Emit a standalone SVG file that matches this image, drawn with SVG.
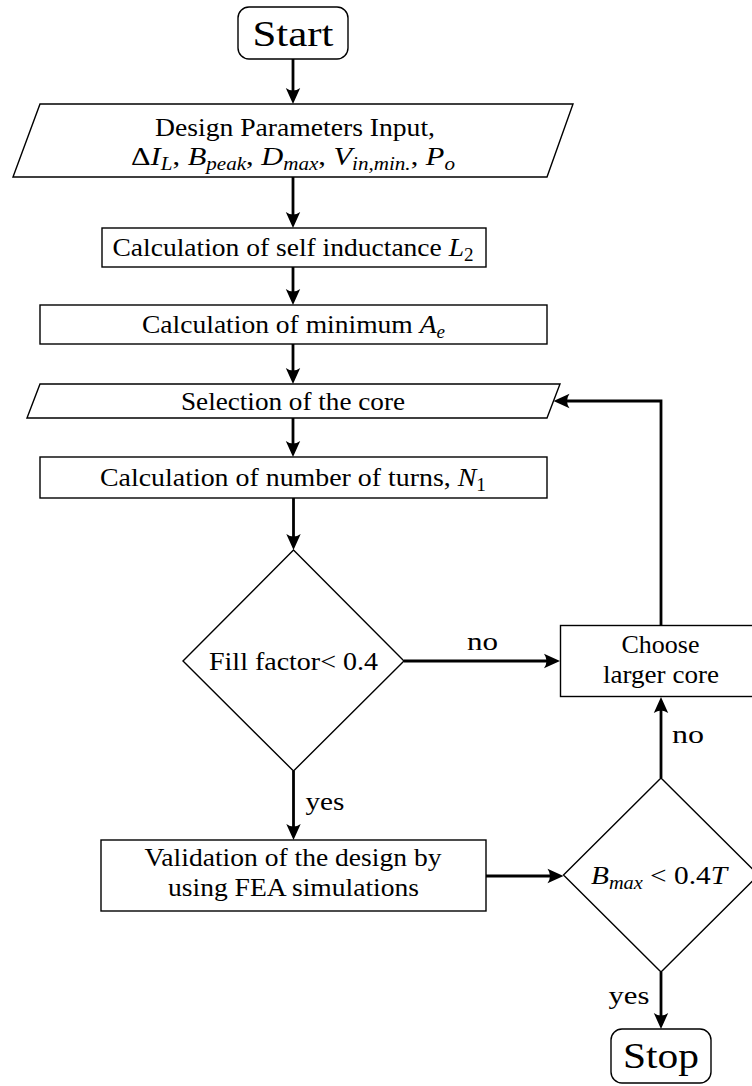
<svg xmlns="http://www.w3.org/2000/svg" width="752" height="1086" viewBox="0 0 752 1086">
  <defs>
    <marker id="arrow" markerUnits="userSpaceOnUse" viewBox="0 0 18 16" markerWidth="18" markerHeight="16" refX="7" refY="8" orient="auto">
      <path d="M17,8 L1,0.8 Q6,8 1,15.2 Z" fill="#000"/>
    </marker>
    <style>
      .node { fill: #fff; stroke: #000; stroke-width: 1.4; }
      .edge { fill: none; stroke: #000; stroke-width: 2.8; marker-end: url(#arrow); }
      .t, .big, .lbl { font-family: 'Liberation Serif', 'DejaVu Serif', 'Times New Roman', serif; fill: #000; }
      .t { font-size: 26px; text-anchor: middle; }
      .big { font-size: 35px; text-anchor: middle; }
      .lbl { font-size: 26px; text-anchor: middle; }
      .it { font-style: italic; }
      .sub { font-style: italic; font-size: 18px; }
      .subr { font-size: 18px; }
    </style>
  </defs>

  <rect x="0" y="0" width="752" height="1086" fill="#fff"/>

  <!-- connectors -->
  <g id="connectors">
    <path class="edge" d="M293,59 V94"/>
    <path class="edge" d="M293,177 V218"/>
    <path class="edge" d="M293,267 V295"/>
    <path class="edge" d="M293,344 V374"/>
    <path class="edge" d="M293,418 V447"/>
    <path class="edge" d="M293.5,498 V540"/>
    <path class="edge" d="M404,661 H550"/>
    <path class="edge" d="M293.5,771 V830"/>
    <path class="edge" d="M486,876 H553.5"/>
    <path class="edge" d="M661,778 V707"/>
    <path class="edge" d="M661,972 V1019"/>
    <path class="edge" d="M661,625.5 V401 H563.5"/>
    <text class="lbl" x="482.5" y="650" textLength="31" lengthAdjust="spacingAndGlyphs">no</text>
    <text class="lbl" x="688" y="743" textLength="32" lengthAdjust="spacingAndGlyphs">no</text>
    <text class="lbl" x="325" y="810" textLength="39" lengthAdjust="spacingAndGlyphs">yes</text>
    <text class="lbl" x="629" y="1004" textLength="41" lengthAdjust="spacingAndGlyphs">yes</text>
  </g>

  <!-- terminal: start -->
  <g id="start">
    <rect class="node" x="238" y="7" width="110" height="52" rx="11"/>
    <text class="big" x="293" y="46" textLength="81" lengthAdjust="spacingAndGlyphs">Start</text>
  </g>

  <!-- input: design parameters -->
  <g id="design-input">
    <polygon class="node" points="40,104 573,104 547,177 13,177"/>
    <text class="t" x="295" y="136" textLength="280" lengthAdjust="spacingAndGlyphs">Design Parameters Input,</text>
    <text class="t" x="293" y="165" textLength="324" lengthAdjust="spacingAndGlyphs">Δ<tspan class="it">I</tspan><tspan class="sub" dy="5">L</tspan><tspan dy="-5">, </tspan><tspan class="it">B</tspan><tspan class="sub" dy="5">peak</tspan><tspan dy="-5">, </tspan><tspan class="it">D</tspan><tspan class="sub" dy="5">max</tspan><tspan dy="-5">, </tspan><tspan class="it">V</tspan><tspan class="sub" dy="5">in,min.</tspan><tspan dy="-5">, </tspan><tspan class="it">P</tspan><tspan class="sub" dy="5">o</tspan></text>
  </g>

  <!-- process: self inductance -->
  <g id="self-inductance">
    <rect class="node" x="102" y="228" width="384" height="39"/>
    <text class="t" x="293" y="256" textLength="361" lengthAdjust="spacingAndGlyphs">Calculation of self inductance <tspan class="it">L</tspan><tspan class="subr" dy="5">2</tspan></text>
  </g>

  <!-- process: minimum Ae -->
  <g id="minimum-ae">
    <rect class="node" x="40" y="305" width="507" height="39"/>
    <text class="t" x="293.5" y="333" textLength="303" lengthAdjust="spacingAndGlyphs">Calculation of minimum <tspan class="it">A</tspan><tspan class="sub" dy="5">e</tspan></text>
  </g>

  <!-- input: core selection -->
  <g id="core-selection">
    <polygon class="node" points="40,384 560,384 547,418 27,418"/>
    <text class="t" x="293" y="410" textLength="224" lengthAdjust="spacingAndGlyphs">Selection of the core</text>
  </g>

  <!-- process: number of turns -->
  <g id="number-of-turns">
    <rect class="node" x="40" y="457" width="507" height="41"/>
    <text class="t" x="293" y="486" textLength="386" lengthAdjust="spacingAndGlyphs">Calculation of number of turns, <tspan class="it">N</tspan><tspan class="subr" dy="5">1</tspan></text>
  </g>

  <!-- decision: fill factor -->
  <g id="fill-factor">
    <polygon class="node" points="293.5,550 404,661 293.5,771 183,661"/>
    <text class="t" x="293.5" y="670" textLength="169" lengthAdjust="spacingAndGlyphs">Fill factor&lt; 0.4</text>
  </g>

  <!-- process: larger core -->
  <g id="larger-core">
    <rect class="node" x="560.5" y="625.5" width="201" height="71"/>
    <text class="t" x="660.5" y="653" textLength="78" lengthAdjust="spacingAndGlyphs">Choose</text>
    <text class="t" x="661" y="683" textLength="116" lengthAdjust="spacingAndGlyphs">larger core</text>
  </g>

  <!-- process: FEA validation -->
  <g id="fea-validation">
    <rect class="node" x="101" y="840" width="385" height="71"/>
    <text class="t" x="293" y="866" textLength="297" lengthAdjust="spacingAndGlyphs">Validation of the design by</text>
    <text class="t" x="293.5" y="896" textLength="251" lengthAdjust="spacingAndGlyphs">using FEA simulations</text>
  </g>

  <!-- decision: flux density -->
  <g id="flux-density">
    <polygon class="node" points="661,778 758.5,875 661,972 563.5,875"/>
    <text class="t" x="659" y="884" textLength="136" lengthAdjust="spacingAndGlyphs"><tspan class="it">B</tspan><tspan class="sub" dy="5">max</tspan><tspan dy="-5"> &lt; 0.4</tspan><tspan class="it">T</tspan></text>
  </g>

  <!-- terminal: stop -->
  <g id="stop">
    <rect class="node" x="611" y="1029" width="100" height="54" rx="11"/>
    <text class="big" x="661" y="1068" textLength="76" lengthAdjust="spacingAndGlyphs">Stop</text>
  </g>
</svg>
